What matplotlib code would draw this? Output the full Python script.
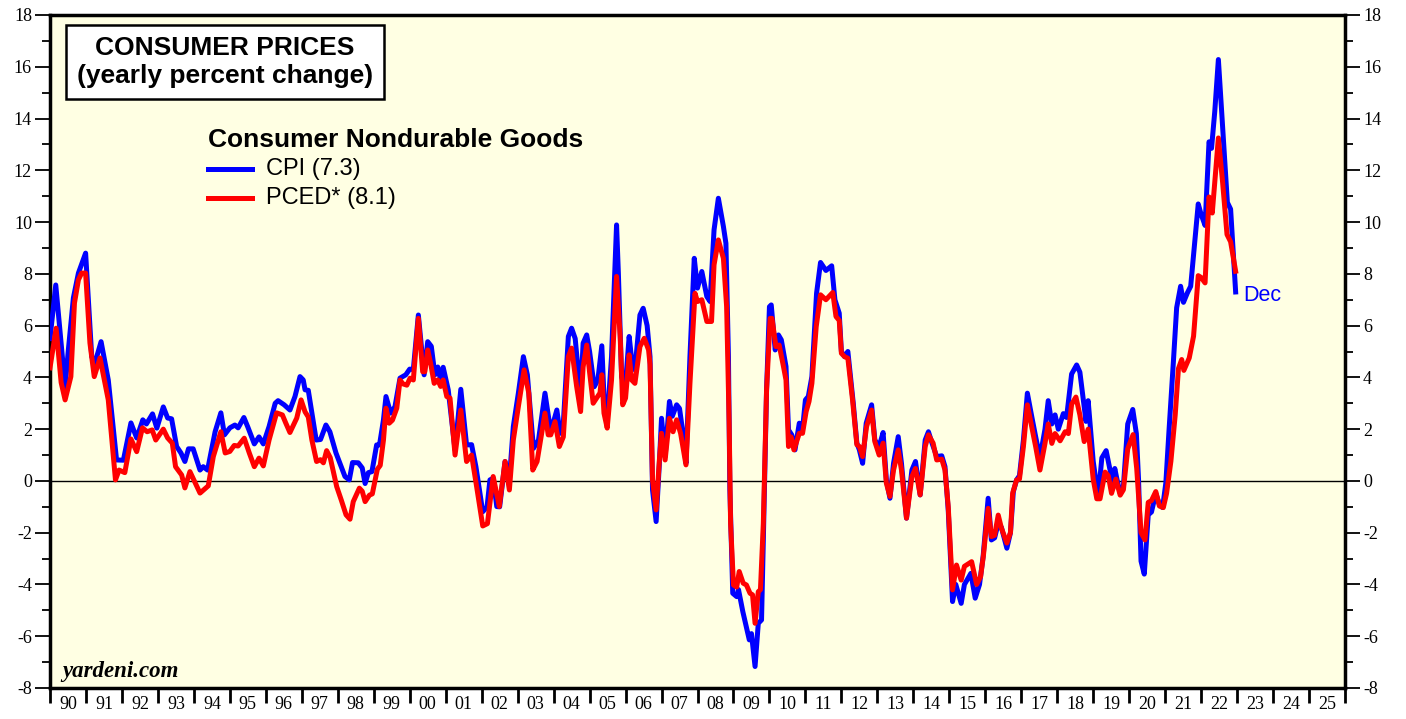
import numpy as np
import matplotlib
matplotlib.use("Agg")
import matplotlib.pyplot as plt
from matplotlib.ticker import MultipleLocator, FixedLocator, NullFormatter

plt.rcParams["axes.unicode_minus"] = False

# CPI nondurables, yearly % change
cpi_dates = [1990.0, 1990.16, 1990.42, 1990.51, 1990.65, 1990.79, 1990.99, 1991.16, 1991.25, 1991.42,
             1991.62, 1991.85, 1992.04, 1992.25, 1992.41, 1992.58, 1992.68, 1992.85, 1992.97, 1993.15,
             1993.27, 1993.38, 1993.52, 1993.64, 1993.75, 1993.85, 1993.98, 1994.17, 1994.26, 1994.38,
             1994.59, 1994.75, 1994.85, 1995.0, 1995.14, 1995.23, 1995.39, 1995.5, 1995.68, 1995.81,
             1995.93, 1996.09, 1996.26, 1996.34, 1996.51, 1996.67, 1996.81, 1996.95, 1997.04, 1997.09,
             1997.18, 1997.28, 1997.4, 1997.52, 1997.67, 1997.78, 1997.95, 1998.2, 1998.32, 1998.41,
             1998.57, 1998.68, 1998.76, 1998.85, 1998.95, 1999.08, 1999.16, 1999.27, 1999.34, 1999.47,
             1999.59, 1999.73, 1999.89, 2000.0, 2000.1, 2000.24, 2000.4, 2000.5, 2000.6, 2000.7,
             2000.78, 2000.85, 2000.93, 2001.07, 2001.26, 2001.42, 2001.58, 2001.72, 2001.84, 2002.03,
             2002.15, 2002.23, 2002.32, 2002.42, 2002.5, 2002.65, 2002.77, 2002.88, 2003.02, 2003.16,
             2003.27, 2003.44, 2003.58, 2003.76, 2003.92, 2004.09, 2004.18, 2004.27, 2004.41, 2004.5,
             2004.6, 2004.75, 2004.82, 2004.92, 2005.0, 2005.13, 2005.23, 2005.34, 2005.4, 2005.49,
             2005.61, 2005.75, 2005.8, 2005.89, 2005.99, 2006.1, 2006.17, 2006.26, 2006.4, 2006.49,
             2006.6, 2006.68, 2006.75, 2006.85, 2006.94, 2007.0, 2007.1, 2007.22, 2007.3, 2007.42,
             2007.5, 2007.58, 2007.68, 2007.79, 2007.91, 2008.0, 2008.12, 2008.26, 2008.35, 2008.46,
             2008.58, 2008.72, 2008.79, 2008.86, 2008.9, 2008.98, 2009.09, 2009.14, 2009.26, 2009.35,
             2009.44, 2009.5, 2009.6, 2009.69, 2009.78, 2009.83, 2009.92, 2010.0, 2010.05, 2010.16,
             2010.25, 2010.33, 2010.46, 2010.53, 2010.62, 2010.71, 2010.83, 2010.92, 2011.0, 2011.08,
             2011.18, 2011.31, 2011.42, 2011.57, 2011.73, 2011.82, 2011.94, 2012.0, 2012.09, 2012.18,
             2012.33, 2012.43, 2012.5, 2012.59, 2012.69, 2012.84, 2012.93, 2013.05, 2013.16, 2013.25,
             2013.35, 2013.45, 2013.58, 2013.67, 2013.81, 2013.96, 2014.06, 2014.19, 2014.33, 2014.42,
             2014.52, 2014.65, 2014.79, 2014.88, 2014.97, 2015.09, 2015.18, 2015.33, 2015.42, 2015.6,
             2015.72, 2015.84, 2015.94, 2016.08, 2016.17, 2016.26, 2016.36, 2016.45, 2016.6, 2016.7,
             2016.78, 2016.87, 2016.95, 2017.06, 2017.17, 2017.29, 2017.4, 2017.52, 2017.66, 2017.75,
             2017.85, 2017.94, 2018.03, 2018.17, 2018.26, 2018.4, 2018.54, 2018.63, 2018.73, 2018.8,
             2018.86, 2019.0, 2019.14, 2019.24, 2019.36, 2019.46, 2019.55, 2019.6, 2019.66, 2019.75,
             2019.84, 2019.96, 2020.1, 2020.2, 2020.26, 2020.33, 2020.42, 2020.53, 2020.62, 2020.74,
             2020.84, 2020.93, 2021.02, 2021.11, 2021.23, 2021.32, 2021.43, 2021.51, 2021.62, 2021.71,
             2021.8, 2021.92, 2022.0, 2022.11, 2022.22, 2022.29, 2022.38, 2022.48, 2022.6, 2022.73,
             2022.82, 2022.96]
cpi_vals = [5.5, 7.57, 3.64, 5.06, 7.07, 8.03, 8.8, 4.8, 4.56, 5.38,
            3.9, 0.81, 0.8, 2.24, 1.66, 2.36, 2.2, 2.59, 2.04, 2.86,
            2.43, 2.4, 1.33, 1.08, 0.75, 1.24, 1.24, 0.42, 0.55, 0.42,
            1.9, 2.63, 1.78, 2.05, 2.16, 2.05, 2.45, 2.08, 1.43, 1.7,
            1.43, 2.1, 3.0, 3.1, 2.94, 2.74, 3.26, 4.03, 3.9, 3.52,
            3.5, 2.62, 1.58, 1.6, 2.16, 1.9, 1.08, 0.17, 0.04, 0.71,
            0.7, 0.5, -0.1, 0.32, 0.36, 1.39, 1.39, 2.36, 3.26, 2.62,
            2.87, 3.97, 4.1, 4.32, 4.3, 6.41, 4.1, 5.38, 5.2, 4.1,
            4.4, 3.95, 4.39, 3.52, 1.2, 3.54, 1.39, 1.4, 0.55, -1.19,
            -1.0, 0.04, 0.1, -0.99, -1.0, 0.75, 0.04, 2.1, 3.39, 4.8,
            4.1, 1.26, 1.58, 3.39, 1.9, 2.74, 1.84, 2.23, 5.58, 5.9,
            5.5, 3.26, 5.32, 5.64, 5.0, 3.64, 3.9, 5.22, 3.26, 2.36,
            4.8, 9.89, 8.03, 4.03, 3.58, 5.58, 4.7, 4.29, 6.41, 6.67,
            6.0, 4.8, -0.35, -1.57, 0.68, 2.42, 0.94, 3.07, 2.5, 2.94,
            2.8, 2.0, 0.68, 4.8, 8.6, 7.45, 8.09, 7.12, 6.93, 9.7,
            10.92, 9.83, 9.18, 4.8, -0.35, -4.34, -4.47, -4.2, -5.05, -5.6,
            -6.14, -5.9, -7.17, -5.5, -5.37, -2.28, 3.52, 6.73, 6.8, 5.06,
            5.64, 5.45, 4.42, 1.97, 1.78, 1.2, 2.23, 2.0, 3.13, 3.26,
            4.03, 7.25, 8.44, 8.13, 8.31, 7.0, 6.48, 5.0, 4.8, 5.0,
            3.0, 1.46, 1.2, 0.68, 2.23, 2.94, 1.58, 1.33, 1.87, 0.04,
            -0.67, 0.68, 1.71, 0.68, -1.44, 0.42, 0.75, -0.54, 1.58, 1.9,
            1.46, 0.94, 0.97, 0.55, -1.12, -4.66, -4.0, -4.73, -4.0, -3.57,
            -4.53, -4.0, -2.92, -0.67, -2.28, -2.2, -1.63, -1.8, -2.6, -2.0,
            -0.41, 0.04, 0.2, 1.58, 3.39, 2.5, 1.71, 0.89, 2.0, 3.1,
            2.2, 2.55, 2.0, 2.6, 2.45, 4.13, 4.48, 4.2, 3.1, 2.3,
            3.1, 0.76, -0.62, 0.89, 1.17, 0.48, -0.07, 0.48, 0.07, -0.48,
            -0.2, 2.2, 2.76, 1.83, 0.07, -3.1, -3.6, -1.31, -1.2, -0.48,
            -0.9, -1.03, -0.07, 2.0, 4.62, 6.69, 7.52, 6.9, 7.27, 7.52,
            8.9, 10.7, 10.3, 9.87, 13.1, 12.85, 14.28, 16.28, 13.6, 10.76,
            10.5, 7.3]

# PCE deflator nondurables, yearly % change
pced_dates = [1990.0, 1990.17, 1990.31, 1990.42, 1990.58, 1990.68, 1990.79, 1990.88, 1990.99, 1991.11,
              1991.23, 1991.39, 1991.62, 1991.82, 1991.92, 1992.08, 1992.25, 1992.41, 1992.57, 1992.7,
              1992.84, 1992.94, 1993.15, 1993.27, 1993.4, 1993.49, 1993.66, 1993.75, 1993.89, 1994.17,
              1994.31, 1994.4, 1994.54, 1994.75, 1994.87, 1995.0, 1995.12, 1995.23, 1995.4, 1995.54,
              1995.68, 1995.81, 1995.93, 1996.09, 1996.3, 1996.46, 1996.55, 1996.67, 1996.86, 1996.98,
              1997.09, 1997.18, 1997.28, 1997.41, 1997.52, 1997.6, 1997.69, 1997.79, 1997.97, 1998.1,
              1998.23, 1998.34, 1998.43, 1998.6, 1998.68, 1998.76, 1998.88, 1998.96, 1999.1, 1999.18,
              1999.27, 1999.34, 1999.43, 1999.52, 1999.64, 1999.73, 1999.81, 1999.92, 2000.01, 2000.1,
              2000.24, 2000.36, 2000.42, 2000.5, 2000.58, 2000.68, 2000.78, 2000.86, 2000.93, 2001.03,
              2001.12, 2001.26, 2001.42, 2001.58, 2001.72, 2001.86, 2002.03, 2002.16, 2002.32, 2002.49,
              2002.65, 2002.77, 2002.88, 2003.02, 2003.18, 2003.31, 2003.42, 2003.54, 2003.76, 2003.85,
              2003.92, 2004.04, 2004.16, 2004.27, 2004.41, 2004.5, 2004.64, 2004.75, 2004.82, 2004.92,
              2005.0, 2005.1, 2005.29, 2005.34, 2005.4, 2005.49, 2005.61, 2005.75, 2005.85, 2005.92,
              2006.0, 2006.1, 2006.17, 2006.26, 2006.4, 2006.52, 2006.64, 2006.68, 2006.75, 2006.85,
              2006.94, 2007.0, 2007.1, 2007.22, 2007.32, 2007.42, 2007.53, 2007.68, 2007.79, 2007.93,
              2008.0, 2008.12, 2008.26, 2008.39, 2008.46, 2008.58, 2008.72, 2008.81, 2008.88, 2008.92,
              2009.0, 2009.09, 2009.16, 2009.27, 2009.36, 2009.46, 2009.53, 2009.6, 2009.69, 2009.75,
              2009.83, 2009.92, 2010.02, 2010.07, 2010.18, 2010.27, 2010.39, 2010.46, 2010.53, 2010.6,
              2010.68, 2010.83, 2010.92, 2011.02, 2011.1, 2011.18, 2011.3, 2011.42, 2011.57, 2011.76,
              2011.85, 2011.94, 2012.0, 2012.09, 2012.18, 2012.31, 2012.43, 2012.5, 2012.59, 2012.7,
              2012.84, 2012.93, 2013.05, 2013.16, 2013.25, 2013.35, 2013.45, 2013.58, 2013.67, 2013.81,
              2013.96, 2014.06, 2014.19, 2014.33, 2014.42, 2014.55, 2014.65, 2014.79, 2014.88, 2014.97,
              2015.09, 2015.2, 2015.33, 2015.42, 2015.62, 2015.76, 2015.87, 2015.95, 2016.08, 2016.17,
              2016.26, 2016.36, 2016.45, 2016.6, 2016.7, 2016.76, 2016.87, 2016.95, 2017.06, 2017.17,
              2017.29, 2017.4, 2017.52, 2017.66, 2017.75, 2017.85, 2017.94, 2018.08, 2018.22, 2018.31,
              2018.4, 2018.52, 2018.63, 2018.75, 2018.86, 2019.0, 2019.1, 2019.19, 2019.33, 2019.42,
              2019.51, 2019.63, 2019.75, 2019.84, 2019.96, 2020.11, 2020.21, 2020.33, 2020.44, 2020.53,
              2020.62, 2020.74, 2020.84, 2020.95, 2021.04, 2021.16, 2021.28, 2021.37, 2021.46, 2021.52,
              2021.67, 2021.79, 2021.92, 2022.0, 2022.11, 2022.22, 2022.31, 2022.48, 2022.6, 2022.72,
              2022.82, 2022.96]
pced_vals = [4.37, 5.9, 3.8, 3.13, 4.03, 6.87, 7.77, 8.03, 8.03, 5.33,
             4.03, 4.75, 3.13, 0.04, 0.42, 0.32, 1.62, 1.13, 2.05, 1.9,
             1.97, 1.58, 2.0, 1.66, 1.46, 0.55, 0.23, -0.27, 0.36, -0.47,
             -0.3, -0.19, 0.94, 1.9, 1.08, 1.14, 1.37, 1.35, 1.65, 1.08,
             0.55, 0.88, 0.58, 1.58, 2.63, 2.55, 2.25, 1.87, 2.43, 3.13,
             2.67, 2.47, 1.58, 0.75, 0.82, 0.7, 1.17, 0.9, -0.22, -0.75,
             -1.31, -1.48, -0.8, -0.28, -0.4, -0.8, -0.55, -0.5, 0.45, 0.6,
             1.58, 2.81, 2.23, 2.35, 2.81, 3.9, 3.75, 3.7, 3.97, 3.9,
             6.28, 4.22, 4.22, 5.06, 4.55, 3.77, 3.9, 3.65, 3.9, 3.26,
             3.2, 1.0, 2.74, 0.75, 1.0, -0.22, -1.74, -1.65, 0.17, -0.99,
             0.75, -0.35, 1.58, 2.87, 4.29, 3.39, 0.42, 0.75, 2.62, 1.78,
             1.78, 2.29, 1.33, 1.7, 4.8, 5.13, 3.65, 2.68, 4.4, 5.25,
             4.2, 3.0, 3.4, 4.1, 2.62, 2.04, 3.9, 7.9, 5.58, 2.94,
             3.2, 4.87, 3.9, 3.77, 5.19, 5.51, 5.06, 4.5, 0.04, -1.12,
             0.8, 1.84, 0.81, 2.42, 1.9, 2.36, 1.84, 0.62, 3.77, 7.25,
             6.93, 7.0, 6.16, 6.16, 8.35, 9.31, 8.6, 6.73, 2.23, -1.64,
             -4.02, -4.1, -3.5, -3.95, -4.02, -4.34, -4.4, -5.5, -4.28, -4.2,
             -1.64, 3.52, 6.28, 6.28, 5.19, 5.25, 4.42, 3.9, 1.33, 1.7,
             1.2, 1.84, 1.84, 2.68, 3.07, 3.77, 5.96, 7.19, 7.0, 7.28,
             6.35, 6.2, 4.93, 4.8, 4.74, 3.13, 1.4, 1.33, 0.94, 2.1,
             2.74, 1.52, 1.0, 1.46, -0.09, -0.6, 0.42, 1.2, 0.42, -1.44,
             0.17, 0.48, -0.54, 1.33, 1.78, 1.46, 0.81, 0.84, 0.42, -0.99,
             -4.21, -3.25, -3.83, -3.3, -3.12, -4.0, -3.7, -2.86, -1.06, -2.15,
             -2.1, -1.32, -1.83, -2.4, -2.0, -0.48, 0.04, 0.07, 1.33, 2.94,
             2.1, 1.33, 0.42, 1.45, 2.2, 1.45, 1.83, 1.55, 1.9, 1.83,
             2.96, 3.24, 2.55, 1.52, 2.0, 0.07, -0.69, -0.69, 0.34, 0.2,
             -0.48, 0.07, -0.55, -0.34, 1.24, 1.79, 0.48, -2.0, -2.28, -0.83,
             -0.76, -0.41, -0.97, -1.03, -0.48, 0.76, 2.55, 4.34, 4.69, 4.27,
             4.75, 5.59, 7.93, 7.86, 7.65, 10.97, 10.35, 13.25, 11.5, 9.52,
             9.24, 8.1]

year_labels = ["%02d" % (y % 100) for y in range(1990, 2026)]

serif = "Liberation Serif"
sans = "Liberation Sans"

fig = plt.figure(figsize=(14.06, 7.19), dpi=100)
ax = fig.add_axes([50/1406, 1 - 688/719, 1295/1406, 673/719])
ax.set_facecolor("#ffffe3")

ax.plot(cpi_dates, cpi_vals, color="#0000ff", lw=3.6, solid_joinstyle="round", zorder=3)
ax.plot(pced_dates, pced_vals, color="#ff0000", lw=3.6, solid_joinstyle="round", zorder=4)
ax.axhline(0, color="black", lw=1.0, zorder=2)

ax.set_xlim(1990, 2026)
ax.set_ylim(-8, 18)

for s in ax.spines.values():
    s.set_linewidth(2.5)

# y axis: both sides
ax.yaxis.set_major_locator(MultipleLocator(2))
ax.yaxis.set_minor_locator(MultipleLocator(1))
ax.tick_params(axis="y", which="both", direction="out", left=True, right=True,
               labelleft=True, labelright=True)
ax.tick_params(axis="y", which="major", length=11, width=1.3, labelsize=13, pad=2)
ax.tick_params(axis="y", which="minor", length=6, width=1.3)
for lab in ax.get_yticklabels():
    lab.set_fontfamily(serif)

# x axis: ticks at year boundaries, labels centered in each year
ax.xaxis.set_major_locator(FixedLocator(np.arange(1990, 2027)))
ax.xaxis.set_major_formatter(NullFormatter())
ax.xaxis.set_minor_locator(FixedLocator(np.arange(1990, 2026) + 0.5))
ax.set_xticklabels(year_labels, minor=True, fontsize=13, fontfamily=serif)
ax.tick_params(axis="x", which="major", direction="out", length=11, width=2)
ax.tick_params(axis="x", which="minor", length=0, pad=6)

# title box
ax.text(175/1295, 1 - 47/673, "CONSUMER PRICES\n(yearly percent change)", transform=ax.transAxes,
        ha="center", va="center", fontsize=19, fontweight="bold", fontfamily=sans,
        linespacing=1.25,
        bbox=dict(boxstyle="square,pad=0.4", facecolor="white", edgecolor="black", lw=1.8))

# legend
ax.text(158/1295, 1 - 125/673, "Consumer Nondurable Goods", transform=ax.transAxes,
        ha="left", va="center", fontsize=19, fontweight="bold", fontfamily=sans)
ax.plot([158/1295, 202/1295], [1 - 154/673] * 2, transform=ax.transAxes, color="#0000ff", lw=3.6)
ax.text(216/1295, 1 - 154/673, "CPI (7.3)", transform=ax.transAxes,
        ha="left", va="center", fontsize=17, fontfamily=sans)
ax.plot([158/1295, 202/1295], [1 - 183/673] * 2, transform=ax.transAxes, color="#ff0000", lw=3.6)
ax.text(216/1295, 1 - 183/673, "PCED* (8.1)", transform=ax.transAxes,
        ha="left", va="center", fontsize=17, fontfamily=sans)

ax.text(cpi_dates[-1] + 0.2, cpi_vals[-1] - 0.15, "Dec", color="#0000ff",
        ha="left", va="center", fontsize=15.5, fontfamily=sans)

ax.text(12/1295, 17/673, "yardeni.com", transform=ax.transAxes, ha="left", va="center",
        fontsize=16.5, fontweight="bold", fontstyle="italic", fontfamily=serif)

fig.savefig("out.png", dpi=100)
